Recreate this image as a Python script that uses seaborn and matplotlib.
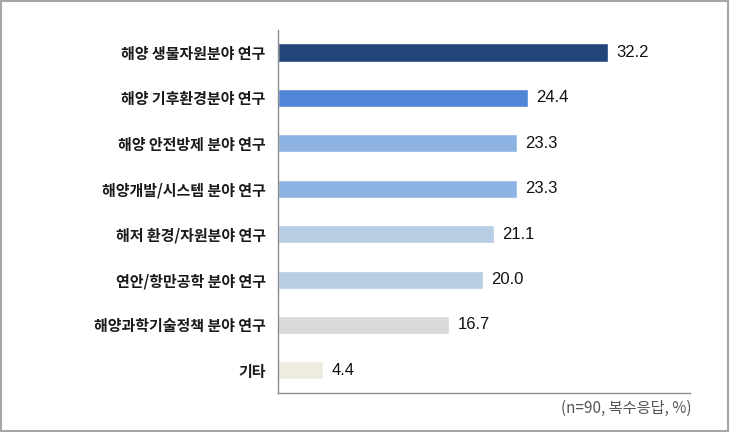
import matplotlib
matplotlib.use("Agg")
import matplotlib.pyplot as plt
import seaborn as sns
import pandas as pd
from matplotlib.patches import Rectangle

categories = ["해양 생물자원분야 연구", "해양 기후환경분야 연구", "해양 안전방제 분야 연구",
              "해양개발/시스템 분야 연구", "해저 환경/자원분야 연구", "연안/항만공학 분야 연구",
              "해양과학기술정책 분야 연구", "기타"]
values = [32.2, 24.4, 23.3, 23.3, 21.1, 20.0, 16.7, 4.4]
colors = ["#22467A", "#4F86D6", "#8DB3E2", "#8DB3E2", "#B9CDE5", "#B9CDE5", "#D9D9D9", "#EEECE1"]
note = "(n=90, 복수응답, %)"

sns.set_style("white")
plt.rcParams['font.family'] = ['Noto Sans CJK KR', 'DejaVu Sans']

df = pd.DataFrame({"cat": categories, "val": values})

fig = plt.figure(figsize=(7.3, 4.32), dpi=100)
ax = fig.add_axes([0.381, 0.090, 0.564, 0.841])

sns.barplot(data=df, x="val", y="cat", hue="cat", palette=colors, legend=False,
            orient="h", width=0.4, ax=ax, saturation=1)

ax.set_xlim(0, 40.2)
ax.set_ylim(len(categories) - 0.5, -0.5)
ax.set_xlabel("")
ax.set_ylabel("")
ax.set_xticks([])

for s in ["top", "right"]:
    ax.spines[s].set_visible(False)
for s in ["left", "bottom"]:
    ax.spines[s].set_color("#8C8C8C")
    ax.spines[s].set_linewidth(1.0)

ax.tick_params(axis="y", which="major", length=0, pad=9)
ax.set_yticks([i + 0.5 for i in range(-1, len(categories))], minor=True)
ax.tick_params(axis="y", which="minor", length=5, color="#8C8C8C", direction="out")
for lab in ax.get_yticklabels():
    lab.set_fontweight("bold")
    lab.set_fontsize(10.8)
    lab.set_color("#1A1A1A")

for i, v in enumerate(values):
    ax.text(v + 0.8, i, f"{v:.1f}", va="center", ha="left",
            fontsize=12, family=["Liberation Sans", "DejaVu Sans"], color="#111111")

fig.text(0.947, 0.055, note, ha="right", va="center", fontsize=11, color="#555555")

fig.patches.append(Rectangle((0.002, 0.003), 0.995, 0.994, transform=fig.transFigure,
                             fill=False, edgecolor="#A6A6A6", linewidth=1.5))

fig.savefig("out.png", dpi=100)
